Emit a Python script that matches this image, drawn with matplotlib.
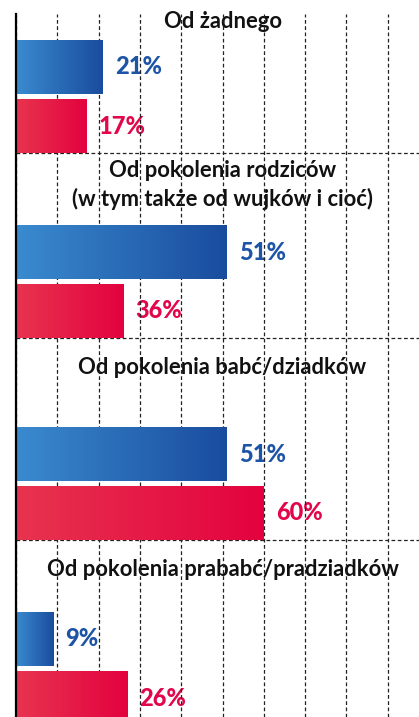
import numpy as np
import matplotlib
matplotlib.use("Agg")
import matplotlib.pyplot as plt
from matplotlib.colors import LinearSegmentedColormap

# ---------------- data ----------------
categories = [
    "Od żadnego",
    "Od pokolenia rodziców\n(w tym także od wujków i cioć)",
    "Od pokolenia babć/dziadków",
    "Od pokolenia prababć/pradziadków",
]
# bar lengths as drawn in the picture
blue_values = [21, 51, 51, 9]
red_values = [17, 26, 60, 27]
# value labels as printed in the picture
blue_labels = ["21%", "51%", "51%", "9%"]
red_labels = ["17%", "36%", "60%", "26%"]
grid_ticks = list(range(0, 101, 10))

# ---------------- layout (pixel units from top of figure) ----------------
W, H = 419, 717
AX_LEFT_PX = 16
AX_TOP_PX = 14
group_bottom = [153, 338, 540, 725]
title_center = [22, 185, 368, 570]
bar_h = 54
bar_gap = 5

blue_cmap = LinearSegmentedColormap.from_list("b", ["#3a8bcf", "#1a4c9e"])
red_cmap = LinearSegmentedColormap.from_list("r", ["#e8344f", "#e3023f"])
blue_text = "#1d54a6"
red_text = "#e2064a"
FONT = "Lato"

fig = plt.figure(figsize=(W / 100, H / 100), dpi=100)
ax = fig.add_axes([AX_LEFT_PX / W, 0, (W - AX_LEFT_PX + 10) / W, (H - AX_TOP_PX) / H])
ax.set_facecolor("white")

grad = np.linspace(0, 1, 256).reshape(1, -1)


def grad_bar(yc, value, label, cmap, tcolor):
    bars = ax.barh(yc, value, height=bar_h, color="none", edgecolor="none", zorder=3)
    patch = bars[0]
    im = ax.imshow(grad, extent=(0, value, yc + bar_h / 2, yc - bar_h / 2),
                   aspect="auto", cmap=cmap, zorder=3, interpolation="bilinear")
    im.set_clip_path(patch)
    ax.annotate(label, xy=(value, yc), xytext=(12, 0), textcoords="offset pixels",
                ha="left", va="center", fontsize=17, fontweight=900,
                color=tcolor, family=FONT, zorder=0.2)


for i, cat in enumerate(categories):
    b = group_bottom[i]
    red_c = b - bar_h / 2
    blue_c = b - bar_h - bar_gap - bar_h / 2
    grad_bar(blue_c, blue_values[i], blue_labels[i], blue_cmap, blue_text)
    grad_bar(red_c, red_values[i], red_labels[i], red_cmap, red_text)
    ax.text(50, title_center[i], cat, ha="center", va="center", fontsize=15.8,
            fontweight="bold", family=FONT, color="#111111", linespacing=1.38, zorder=0.2)
    ax.axhline(b, color="#222222", lw=0.9, ls=(0, (3, 2)), zorder=0.5)

ax.set_xlim(0, 100 * (W - AX_LEFT_PX + 10) / 413)
ax.set_ylim(H, AX_TOP_PX)
ax.set_xticks(grid_ticks)
ax.set_yticks([])
ax.tick_params(axis="x", length=0, labelbottom=False)
ax.grid(axis="x", color="#222222", lw=0.9, ls=(0, (3, 2)))
ax.set_axisbelow(True)
for s in ["top", "right", "bottom"]:
    ax.spines[s].set_visible(False)
ax.spines["left"].set_color("black")
ax.spines["left"].set_linewidth(1.6)
ax.spines["left"].set_zorder(5)

fig.savefig("out.png", dpi=100)
